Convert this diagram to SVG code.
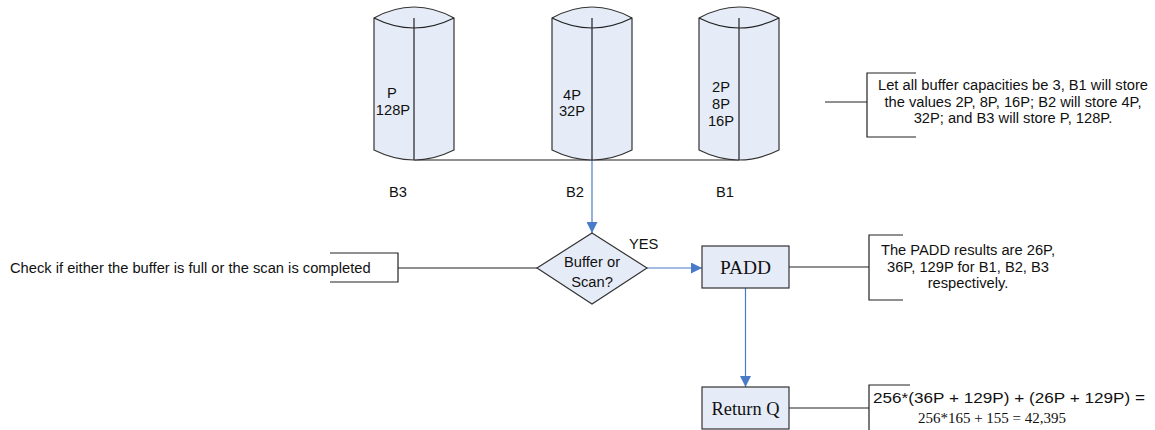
<svg xmlns="http://www.w3.org/2000/svg" width="1155" height="430" viewBox="0 0 1155 430">
<style>
.shape{fill:#e6ecf7;stroke:#333;stroke-width:1.2}
.ln{fill:none;stroke:#222;stroke-width:1.2}
.bl{fill:none;stroke:#4a7bc8;stroke-width:1.2}
.t{font-family:"Liberation Sans",Arial,sans-serif;font-size:14.7px;fill:#111}
.m{text-anchor:middle}
.s{font-family:"Liberation Serif","Times New Roman",serif;fill:#111}
</style>
<defs>
<marker id="ab" viewBox="0 0 10 10" refX="10" refY="5" markerWidth="11" markerHeight="11" markerUnits="userSpaceOnUse" orient="auto">
<path d="M0,0 L10,5 L0,10 z" fill="#4a7bc8"/>
</marker>
</defs>
<rect width="1155" height="430" fill="#fff"/>
<g id="connectors">
<path class="ln" d="M414,160 H739"/>
<path class="bl" d="M592,160 V233" marker-end="url(#ab)"/>
<path class="ln" d="M398,268 H537"/>
<path class="bl" d="M647,268 H702" marker-end="url(#ab)"/>
<path class="bl" d="M745.5,288 V387" marker-end="url(#ab)"/>
<path class="ln" d="M789,267 H869"/>
<path class="ln" d="M789,408 H869"/>
<path class="ln" d="M825,102 H867"/>
</g>
<g id="B3">
<path class="shape" d="M374,18 Q414,-4 454,18 V150 Q414,170 374,150 Z"/>
<path class="ln" d="M374,18 Q414,38 454,18 M414,18 V160"/>
<text class="t m" x="392" y="98">P</text>
<text class="t m" x="393" y="115">128P</text>
<text class="t m" x="398" y="197">B3</text>
</g>
<g id="B2">
<path class="shape" d="M552,18 Q592,-4 632,18 V150 Q592,170 552,150 Z"/>
<path class="ln" d="M552,18 Q592,38 632,18 M592,18 V160"/>
<text class="t m" x="572" y="100">4P</text>
<text class="t m" x="572" y="116">32P</text>
<text class="t m" x="575" y="197">B2</text>
</g>
<g id="B1">
<path class="shape" d="M699,18 Q739,-4 779,18 V150 Q739,170 699,150 Z"/>
<path class="ln" d="M699,18 Q739,38 779,18 M739,18 V160"/>
<text class="t m" x="721" y="92">2P</text>
<text class="t m" x="721" y="109">8P</text>
<text class="t m" x="721" y="126">16P</text>
<text class="t m" x="725" y="197">B1</text>
</g>
<g id="note-buffers">
<path class="ln" d="M916,73 H867 V137 H916"/>
<text class="t m" x="1013" y="90">Let all buffer capacities be 3, B1 will store</text>
<text class="t m" x="1013" y="107">the values 2P, 8P, 16P; B2 will store 4P,</text>
<text class="t m" x="1013" y="123">32P; and B3 will store P, 128P.</text>
</g>
<g id="note-check">
<path class="ln" d="M330,253 H398 V282 H330"/>
<text class="t" x="10" y="273">Check if either the buffer is full or the scan is completed</text>
</g>
<g id="decision">
<path class="shape" d="M592,233 L647,268 L592,304 L537,268 Z"/>
<text class="t m" x="592" y="267">Buffer or</text>
<text class="t m" x="592" y="287">Scan?</text>
<text class="t" x="629" y="249">YES</text>
</g>
<g id="padd">
<rect class="shape" x="702" y="246" width="87" height="42"/>
<text class="s m" x="745.5" y="274" font-size="19.4">PADD</text>
</g>
<g id="note-padd">
<path class="ln" d="M903,235 H869 V300 H903"/>
<text class="t m" x="968" y="255">The PADD results are 26P,</text>
<text class="t m" x="968" y="272">36P, 129P for B1, B2, B3</text>
<text class="t m" x="968" y="288">respectively.</text>
</g>
<g id="returnq">
<rect class="shape" x="702" y="387" width="87" height="42"/>
<text class="s m" x="745.5" y="415" font-size="18.4">Return Q</text>
</g>
<g id="note-q">
<path class="ln" d="M910,385 H869 V430"/>
<text class="t" x="873" y="403" font-size="15.5" textLength="272" lengthAdjust="spacingAndGlyphs">256*(36P + 129P) + (26P + 129P) =</text>
<text class="s m" x="992" y="423" font-size="15">256*165 + 155 = 42,395</text>
</g>
</svg>
